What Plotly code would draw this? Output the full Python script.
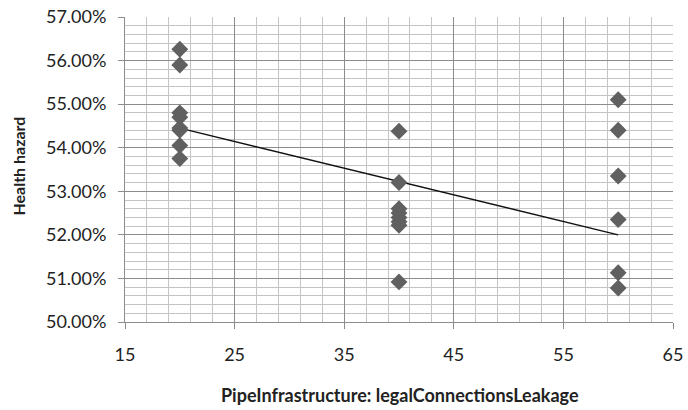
import plotly.graph_objects as go

# ======================
# DATA
# ======================
leakage = [20, 20, 20, 20, 20, 20, 20, 20,
           40, 40, 40, 40, 40, 40, 40, 40,
           60, 60, 60, 60, 60, 60]
health_hazard = [0.5626, 0.5590, 0.5480, 0.5470, 0.5445, 0.5440, 0.5405, 0.5375,
                 0.5438, 0.5320, 0.5260, 0.5250, 0.5240, 0.5230, 0.5222, 0.5092,
                 0.5510, 0.5440, 0.5335, 0.5235, 0.5113, 0.5078]

trend_x = [20, 60]
trend_y = [0.5445, 0.5200]

x_ticks = [15, 25, 35, 45, 55, 65]

# ======================
# PLOT
# ======================
fig = go.Figure()

# Linear trendline
fig.add_trace(go.Scatter(
    x=trend_x,
    y=trend_y,
    mode="lines",
    line=dict(color="#111111", width=1.5),
    hoverinfo="skip",
    showlegend=False
))

# Points
fig.add_trace(go.Scatter(
    x=leakage,
    y=health_hazard,
    mode="markers",
    marker=dict(symbol="diamond", size=13, color="#606060"),
    showlegend=False
))

font_name = "Lato"

fig.update_layout(
    width=688,
    height=410,
    paper_bgcolor="white",
    plot_bgcolor="white",
    margin=dict(l=125, r=15, t=17, b=88),
    font=dict(family=font_name, color="#222222"),
    xaxis=dict(
        range=[15, 65],
        tickvals=x_ticks,
        tickfont=dict(size=18, family=font_name),
        showgrid=True,
        gridcolor="#8c8c8c",
        gridwidth=1,
        minor=dict(dtick=2, tick0=15, showgrid=True, gridcolor="#c4c4c4", gridwidth=1),
        showline=True,
        linecolor="#8c8c8c",
        ticks="outside",
        ticklen=6,
        tickcolor="#8c8c8c",
        ticklabelstandoff=10,
        ticklabeloverflow="allow",
        zeroline=False,
        automargin=False,
    ),
    yaxis=dict(
        range=[0.50, 0.57],
        dtick=0.01,
        tickformat=".2%",
        tickfont=dict(size=18, family=font_name),
        showgrid=True,
        gridcolor="#8c8c8c",
        gridwidth=1,
        minor=dict(dtick=0.002, showgrid=True, gridcolor="#c4c4c4", gridwidth=1),
        showline=True,
        linecolor="#8c8c8c",
        ticks="outside",
        ticklen=6,
        tickcolor="#8c8c8c",
        ticklabelstandoff=8,
        ticklabeloverflow="allow",
        zeroline=False,
        automargin=False,
    ),
    annotations=[
        dict(text="<b>PipeInfrastructure: legalConnectionsLeakage</b>",
             xref="paper", yref="paper", x=0.502, y=-0.239,
             xanchor="center", yanchor="middle",
             showarrow=False, font=dict(size=18, family=font_name)),
        dict(text="<b>Health hazard</b>",
             xref="paper", yref="paper", x=-0.195, y=0.51, textangle=-90,
             xanchor="center", yanchor="middle",
             showarrow=False, font=dict(size=16, family=font_name)),
    ],
)

# drop the page's default 8px body margin so the figure sits at the window's corner
fig.write_html(
    "out.html",
    config={"displayModeBar": False},
    post_script="document.body.style.margin='0';document.body.style.overflow='hidden';",
)
